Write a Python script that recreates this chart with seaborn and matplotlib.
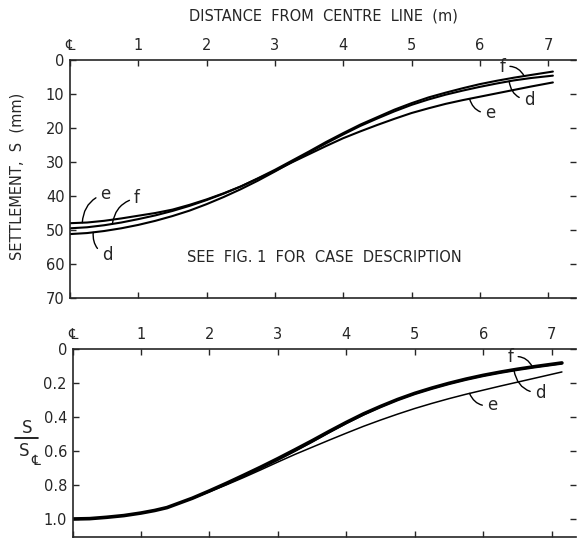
import numpy as np
import pandas as pd
import matplotlib
matplotlib.use("Agg")
import matplotlib.pyplot as plt
import seaborn as sns

# Settlement profiles (mm) against distance from the centre line (m)
dist_s = [0, 0.25, 0.5, 0.75, 1, 1.25, 1.5, 1.75, 2, 2.25, 2.5, 2.75, 3, 3.25, 3.5,
          3.75, 4, 4.25, 4.5, 4.75, 5, 5.25, 5.5, 5.75, 6, 6.25, 6.5, 6.75, 7.07]
settle_d = [51.2, 50.9, 50.3, 49.5, 48.5, 47.3, 45.9, 44.3, 42.4, 40.3, 38.0, 35.5, 32.8, 30.0, 27.2,
            24.5, 21.9, 19.4, 17.2, 15.1, 13.2, 11.6, 10.2, 9.0, 7.9, 6.9, 6.0, 5.3, 4.6]
settle_e = [48.0, 47.8, 47.3, 46.6, 45.8, 45.0, 44.0, 42.6, 41.0, 39.2, 37.2, 34.9, 32.6, 30.1, 27.7,
            25.3, 23.0, 21.0, 19.1, 17.3, 15.6, 14.2, 12.9, 11.8, 10.8, 9.8, 8.8, 7.8, 6.6]
settle_f = [49.5, 49.2, 48.6, 47.8, 46.8, 45.7, 44.4, 42.9, 41.2, 39.3, 37.2, 34.8, 32.3, 29.6, 26.9,
            24.1, 21.5, 19.0, 16.8, 14.6, 12.7, 11.0, 9.6, 8.3, 7.1, 6.1, 5.2, 4.4, 3.4]

# Normalised settlement S / S(centre line)
dist_n = [0, 0.25, 0.5, 0.75, 1, 1.2, 1.38, 1.75, 2, 2.25, 2.5, 2.75, 3, 3.25, 3.5,
          3.75, 4, 4.25, 4.5, 4.75, 5, 5.25, 5.5, 5.75, 6, 6.25, 6.5, 6.75, 7.15]
norm_d = [1.0, 0.998, 0.99, 0.98, 0.965, 0.95, 0.933, 0.879, 0.838, 0.795, 0.750, 0.703, 0.654, 0.602, 0.548,
          0.492, 0.438, 0.388, 0.342, 0.300, 0.264, 0.233, 0.205, 0.180, 0.158, 0.139, 0.122, 0.107, 0.086]
norm_e = [1.0, 0.998, 0.99, 0.98, 0.965, 0.95, 0.933, 0.880, 0.840, 0.799, 0.756, 0.711, 0.665, 0.620, 0.578,
          0.536, 0.495, 0.455, 0.418, 0.383, 0.350, 0.320, 0.292, 0.266, 0.242, 0.218, 0.195, 0.172, 0.135]
norm_f = [1.0, 0.998, 0.99, 0.98, 0.965, 0.95, 0.933, 0.878, 0.835, 0.790, 0.743, 0.695, 0.645, 0.593, 0.540,
          0.485, 0.432, 0.382, 0.338, 0.297, 0.261, 0.230, 0.202, 0.177, 0.155, 0.136, 0.119, 0.104, 0.082]

x_ticks = [0, 1, 2, 3, 4, 5, 6, 7]
x_ticklabels = ["\u2104", "1", "2", "3", "4", "5", "6", "7"]
s_ticks = [0, 10, 20, 30, 40, 50, 60, 70]
n_ticks = [0, 0.2, 0.4, 0.6, 0.8, 1.0]
n_ticklabels = ["0", "0.2", "0.4", "0.6", "0.8", "1.0"]

sns.set_style("white")
plt.rcParams["font.family"] = ["DejaVu Sans", "Noto Sans", "Noto Sans CJK SC"]
plt.rcParams["axes.linewidth"] = 1.2

top = pd.DataFrame({"x": dist_s * 3,
                    "S": settle_d + settle_e + settle_f,
                    "case": ["d"] * len(dist_s) + ["e"] * len(dist_s) + ["f"] * len(dist_s)})
bot = pd.DataFrame({"x": dist_n * 3,
                    "R": norm_d + norm_e + norm_f,
                    "case": ["d"] * len(dist_n) + ["e"] * len(dist_n) + ["f"] * len(dist_n)})

fig = plt.figure(figsize=(5.8, 5.41), dpi=100)
W, H = 580, 541
ax1 = fig.add_axes([70 / W, (H - 298) / H, 506 / W, 238 / H])
ax2 = fig.add_axes([72.5 / W, (H - 537) / H, 503.5 / W, 188 / H])

sns.lineplot(data=top, x="x", y="S", hue="case", palette={"d": "k", "e": "k", "f": "k"},
             linewidth=1.5, legend=False, ax=ax1, sort=False, estimator=None)
sns.lineplot(data=bot, x="x", y="R", hue="case", size="case",
             sizes={"d": 1.1, "e": 1.1, "f": 2.6},
             palette={"d": "k", "e": "k", "f": "k"},
             legend=False, ax=ax2, sort=False, estimator=None)
for ax in (ax1, ax2):
    for ln in ax.get_lines():
        ln.set_solid_joinstyle("round")

ax1.set_xlim(0, 506 / 68.3)
ax1.set_ylim(70, 0)
ax2.set_xlim(0, 503.5 / 68.45)
ax2.set_ylim(1.106, 0)

for ax in (ax1, ax2):
    ax.set_xlabel("")
    ax.set_ylabel("")
    ax.set_xticks(x_ticks)
    ax.set_xticklabels(x_ticklabels)
    ax.spines["right"].set_visible(False)
    ax.tick_params(axis="x", which="both", top=True, bottom=True, labeltop=True,
                   labelbottom=False, direction="in", length=4, width=1.0,
                   pad=5, labelsize=10.5)
    ax.tick_params(axis="y", which="both", left=True, right=True, direction="in",
                   length=4, width=1.0, pad=4, labelsize=10.5)

ax1.set_yticks(s_ticks)
ax2.set_yticks(n_ticks)
ax2.set_yticklabels(n_ticklabels)

ann = dict(arrowstyle="-", lw=1.0, color="k", shrinkA=1, shrinkB=0)


def tag(ax, text, xs, ys, at, pos, rad):
    yc = float(np.interp(at, xs, ys))
    ax.annotate(text, xy=(at, yc), xytext=pos, ha="center", va="center", fontsize=12,
                arrowprops=dict(ann, connectionstyle=f"arc3,rad={rad}"))


tag(ax1, "e", dist_s, settle_e, 0.18, (0.52, 39.3), 0.35)
tag(ax1, "f", dist_s, settle_f, 0.62, (0.98, 40.6), 0.35)
tag(ax1, "d", dist_s, settle_d, 0.34, (0.54, 57.5), -0.35)
tag(ax1, "f", dist_s, settle_f, 6.65, (6.33, 2.2), -0.4)
tag(ax1, "d", dist_s, settle_d, 6.43, (6.72, 11.8), -0.4)
tag(ax1, "e", dist_s, settle_e, 5.85, (6.15, 15.6), -0.4)

tag(ax2, "f", dist_n, norm_f, 6.72, (6.4, 0.05), -0.4)
tag(ax2, "d", dist_n, norm_d, 6.45, (6.83, 0.26), -0.4)
tag(ax2, "e", dist_n, norm_e, 5.8, (6.13, 0.33), -0.4)

ax1.text(3.73, 58, "SEE  FIG. 1  FOR  CASE  DESCRIPTION", ha="center", va="center",
         fontsize=10.5)

fig.text(323 / W, 1 - 16 / H, "DISTANCE  FROM  CENTRE  LINE  (m)", ha="center",
         va="center", fontsize=10.5)
fig.text(17 / W, 1 - 176 / H, "SETTLEMENT,  S  (mm)", ha="center", va="center",
         rotation=90, fontsize=10.5)

# S / S-centre-line label drawn as a stacked fraction
fig.text(27 / W, 1 - 428 / H, "S", ha="center", va="center", fontsize=12)
fig.add_artist(plt.Line2D([15 / W, 38 / W], [1 - 438 / H, 1 - 438 / H],
                          color="k", lw=1.2, transform=fig.transFigure))
fig.text(24 / W, 1 - 451 / H, "S", ha="center", va="center", fontsize=12)
fig.text(36 / W, 1 - 461 / H, "\u2104", ha="center", va="center", fontsize=10)

fig.savefig("out.png", dpi=100)
